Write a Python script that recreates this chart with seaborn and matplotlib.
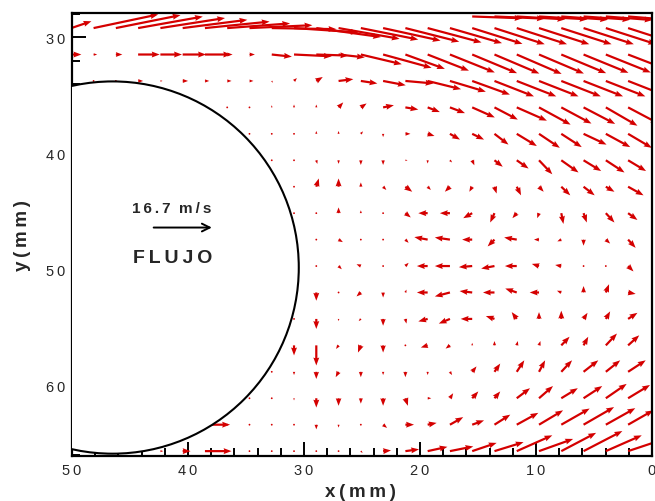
import numpy as np
import matplotlib
matplotlib.use("Agg")
import matplotlib.pyplot as plt
import seaborn as sns
from matplotlib.patches import Circle
from matplotlib.ticker import MultipleLocator, FuncFormatter

n = np.nan

# measurement grid (mm)
x_cols = [50.06, 48.14, 46.22, 44.30, 42.38, 40.46, 38.54, 36.62, 34.70, 32.78,
          30.86, 28.94, 27.02, 25.10, 23.18, 21.26, 19.34, 17.42, 15.50, 13.58,
          11.66, 9.74, 7.82, 5.90, 3.98, 2.06]
y_rows = [28.2, 29.2, 31.48, 33.76, 36.04, 38.32, 40.6, 42.88, 45.16, 47.44,
          49.72, 52.0, 54.28, 56.56, 58.84, 61.12, 63.4, 65.68]

# streamwise velocity (m/s, positive = left-to-right on the chart)
u_rows = [
    [n]*18 + [14, 14, 13.5, 13.5, 13, 13, 13, 12.5],
    [5.6, 18, 18, 18, 18, 18, 18, 17.5, 17.5, 18, 18, 18, 17, 16, 16, 15, 15, 14.5, 14, 14, 14, 14, 14, 14, 14, 14],
    [2.8, 1.0, 1.8, 6.0, 6.0, 6.5, 7.3, 1.5, 1.5, 5.6, 10.5, 8.9, 7.3, 11.4, 13.5, 11.0, 11.5, 12.5, 12.5, 12.5, 12.5, 12.5, 12.5, 12.5, 12.5, 12.5],
    [0.5, 0.5, 0.5, 1.4, 0.6, 1.5, 1.2, 1.2, 1.1, 0.3, 0.8, 1.8, 4.1, 4.6, 6.3, 7.8, 9.3, 10.0, 10.5, 11, 11, 11, 11, 11, 11, 11],
    [n]*7 + [0.3, 0.5, 0, 0, 0, 1.3, 1.6, 3.0, 3.6, 3.4, 4.2, 6.3, 6.5, 8.4, 8.8, 8.4, 8.8, 8.8, 8.5],
    [n]*8 + [0.3, 0.5, 0.2, 0, 0, 0.6, 0, 1.4, 1.9, 2.8, 3.3, 3.9, 5.6, 5.8, 5.7, 6.4, 6.8, 6.6],
    [n]*9 + [0, 0, 0.3, 0, 0, 0, 0.6, 0, 0.6, 0.6, 2.3, 3.3, 3.7, 4.8, 4.9, 5.2, 5.0],
    [n]*10 + [0, 0.7, 0, 0, 0.9, 1.9, 0.9, -1.4, -0.8, 0.6, 1.2, 1.3, 2.5, 3.1, 2.4, 4.3],
    [n]*10 + [0, 0, 0, 0, 0, 1.5, -2.6, -2.8, -2.5, -1.2, -1.2, -0.5, 0.6, 0.9, 2.4, 2.6],
    [n]*11 + [0, 1.2, 0, 0, 0.9, -3.7, -4.2, -2.8, -1.9, -3.5, -1.4, -1.1, 0, 1.2, 2.1],
    [n]*11 + [0, 0.9, -1.2, 0, 0.9, -3.0, -4.2, -3.7, -3.7, -3.3, -2.0, -1.7, 0, 0, 1.5],
    [n]*11 + [0, 0, -1.2, 0, 0.3, -3.0, -4.2, -3.5, -3.2, -3.2, -2.6, -1.2, 0, 0.9, 2.1],
    [n]*10 + [0, 0, 0, -0.6, 0, 0.3, -2.6, -3.1, -3.2, -2.4, -1.4, 0, 0, 1.1, 1.2, 2.6],
    [n]*10 + [0, 0, -0.7, -0.8, 0, 0, -1.9, -1.2, 0, 0, 0.3, 0.4, 2.3, 1.3, 3.1, 3.1],
    [n]*9 + [0, 0, 0, -0.8, 0, 0, 0, 0, 0.6, 1.2, 1.6, 2.1, 1.7, 3.0, 4.1, 4.0, 4.9],
    [n]*8 + [0, 0, 0, 0, 0, 0, 0, 0.7, 1.0, 0.9, 1.7, 1.6, 3.7, 3.9, 4.6, 5.2, 5.8, 6.1],
    [n]*6 + [7.0, 0.3, 0, 0, 0, 0, 0, 0, 1.1, 2.4, 2.5, 3.7, 3.3, 4.4, 6.0, 6.7, 7.9, 8.5, 8.2, 7.0],
    [n]*4 + [0.8, 2.2, 7.4, 0, 0, 0, 0, 0, 0.3, 0.5, 2.2, 3.8, 5.5, 6.5, 6.8, 8.1, 9.9, 9.5, 9.7, 10.8, 10.0, 9.0],
]

# transverse velocity (m/s, positive = upwards on the chart)
v_rows = [
    [n]*18 + [-0.5, -0.6, -0.8, -0.8, -0.9, -0.9, -1.0, -1.0],
    [1.9, 3.8, 3.6, 3.2, 2.8, 2.3, 1.8, 1.3, 0.8, -0.3, -1.2, -2.5, -3.0, -3.2, -3.5, -3.8, -4.0, -4.2, -4.4, -4.5, -4.5, -4.5, -4.5, -4.5, -4.5, -4.5],
    [0, 0, 0, 0, 0, 0, 0, 0, 0, -0.6, -0.5, -0.3, -0.8, -2.7, -3.7, -4.0, -4.5, -5.0, -5.2, -5.3, -5.4, -5.3, -5.2, -5.1, -5.0, -4.8],
    [0, 0, 0, 0, 0, 0, 0, 0, 0, -0.5, 0.8, 1.1, 0.5, -0.7, -1.2, -0.7, -2.3, -3.0, -3.8, -4.3, -4.3, -4.3, -4.3, -4.3, -4.3, -4.3],
    [n]*7 + [0, 0, 0.6, 0.8, 0.8, 1.4, 1.1, 0.6, -0.6, -1.3, -1.6, -2.8, -3.4, -3.7, -4.8, -4.5, -4.6, -5.1, -4.5],
    [n]*8 + [0, 0, 0, 0.8, 0.8, 0.7, -0.9, 0, -0.6, -1.6, -1.6, -3.0, -3.4, -3.9, -3.7, -3.0, -3.7, -3.9],
    [n]*9 + [0, 0, -1.0, -1.0, -1.3, -1.3, 0, -0.9, -0.6, -1.4, -1.8, -2.3, -3.9, -3.4, -3.0, -3.4, -3.0],
    [n]*10 + [0, 2.3, 2.3, 1.2, -0.9, -1.4, -0.9, -1.4, -1.4, -1.9, -2.4, -1.4, -2.4, -2.4, -1.4, -2.4],
    [n]*10 + [0, 0, 1.6, 0.8, 0, -1.2, 0, 0, -1.4, -2.6, -1.4, -1.4, -3.0, -2.6, -2.6, -1.9],
    [n]*11 + [0, -0.7, 0.5, 0, -0.9, 0.7, 0.6, 0, -1.9, 0.6, 0, -0.5, -1.7, -1.1, -2.3],
    [n]*11 + [0, -0.9, 0.5, -0.3, 0.9, 0, 0, -0.3, -0.7, 0, 0.6, 0.3, 0, -0.5, -1.5],
    [n]*11 + [-2.3, 0, -1.1, -1.4, 0.8, 0, -1.1, 0.4, 0, 1.1, 0, 0.5, 1.8, 2.3, -0.4],
    [n]*10 + [0, -2.8, -0.6, -0.6, -1.9, -1.3, -0.7, -1.3, 0, 0.8, 1.9, 1.9, 2.3, 1.7, 2.1, 1.7],
    [n]*10 + [-2.8, -5.6, -1.0, -2.0, -2.0, 0, -0.6, -0.9, 0.7, 1.2, 1.2, 1.2, 2.4, 2.4, 3.3, 2.8],
    [n]*9 + [0, -0.9, -2.0, -1.5, -1.5, -0.9, -1.5, -0.9, -0.9, 1.5, 2.3, 3.2, 3.2, 3.2, 3.2, 3.2, 3.2],
    [n]*8 + [0, 0, -0.6, -2.6, -2.1, -1.5, -2.1, -2.1, 0, 1.4, 1.9, 1.9, 2.8, 3.4, 2.8, 3.4, 4.0, 3.7],
    [n]*6 + [0, 0, 0, 0, 0, -1.3, -0.8, 0, -0.9, 0, 0.5, 2.1, 1.2, 2.8, 3.3, 4.0, 4.5, 4.9, 4.6, 4.0],
    [n]*4 + [0, 0, 0, 0, 0, 0, 0, 0, -0.3, -0.5, 0.2, 0.5, 1.2, 1.3, 2.3, 2.5, 4.4, 3.4, 5.1, 5.6, 4.4, 3.0],
]

ref_speed = 16.7            # m/s, reference vector
ref_unit = 'm/s'
flow_label = 'FLUJO'
cyl_center = (46.5, 49.85)  # mm
cyl_radius = 16.05          # mm

TS = '\u2009'  # thin space used for the wide letter spacing of the original


def spaced(s):
    return TS.join(s)


sns.set_theme(style="white")
plt.rcParams['font.family'] = ['Liberation Sans', 'DejaVu Sans']

fig = plt.figure(figsize=(6.55, 5.02), dpi=100)
ax = fig.add_axes([72/655, 1-457/502, 580/655, 443/502])

X, Y = np.meshgrid(np.array(x_cols), np.array(y_rows))
U = np.array(u_rows, dtype=float)
V = np.array(v_rows, dtype=float)
ok = ~np.isnan(U)

scale = 3.23  # m/s per mm
red = '#d40000'
ax.quiver(X[ok], Y[ok], -U[ok], -V[ok], angles='xy', scale_units='xy',
          scale=scale, color=red, width=0.0038, headwidth=2.7,
          headlength=3.6, headaxislength=3.3, minlength=0.9, zorder=2)

ax.add_patch(Circle(cyl_center, cyl_radius, facecolor='white',
                    edgecolor='black', lw=1.5, zorder=3))

# reference vector
x0, yk = 42.96, 46.4
ax.annotate('', xy=(x0 - ref_speed/scale*0.97, yk), xytext=(x0, yk),
            arrowprops=dict(arrowstyle='->', lw=1.4, color='black',
                            mutation_scale=14, shrinkA=0, shrinkB=0),
            zorder=4)
ax.text(41.4, 44.7, spaced(f'{ref_speed}') + '  ' + spaced(ref_unit),
        ha='center', va='center', fontsize=11, fontweight='bold', zorder=4)
ax.text(41.3, 49.0, spaced(flow_label), ha='center', va='center',
        fontsize=14, fontweight='bold', zorder=4)

ax.set_xlim(50, 0)
ax.set_ylim(66.1, 27.9)
ax.xaxis.set_major_locator(MultipleLocator(10))
ax.xaxis.set_minor_locator(MultipleLocator(2))
ax.yaxis.set_major_locator(MultipleLocator(10))
ax.yaxis.set_minor_locator(MultipleLocator(2))
fmt = FuncFormatter(lambda val, pos: spaced(f'{val:.0f}'))
ax.xaxis.set_major_formatter(fmt)
ax.yaxis.set_major_formatter(fmt)
ax.tick_params(which='major', direction='in', length=10, width=1.4,
               color='black', labelsize=10.5, pad=5, top=False, right=False,
               bottom=True, left=True)
ax.tick_params(which='minor', direction='in', length=5.5, width=1.4,
               color='black', top=False, right=False, bottom=True, left=True)
for s in ax.spines.values():
    s.set_color('black')
    s.set_linewidth(1.6)

ax.set_xlabel(spaced('x(mm)'), fontsize=13.5, fontweight='bold')
ax.set_ylabel(spaced('y(mm)'), fontsize=13.5, fontweight='bold')
ax.xaxis.set_label_coords(0.497, -0.06)
ax.yaxis.set_label_coords(-0.07, 0.5)

fig.savefig('out.png', dpi=100)
